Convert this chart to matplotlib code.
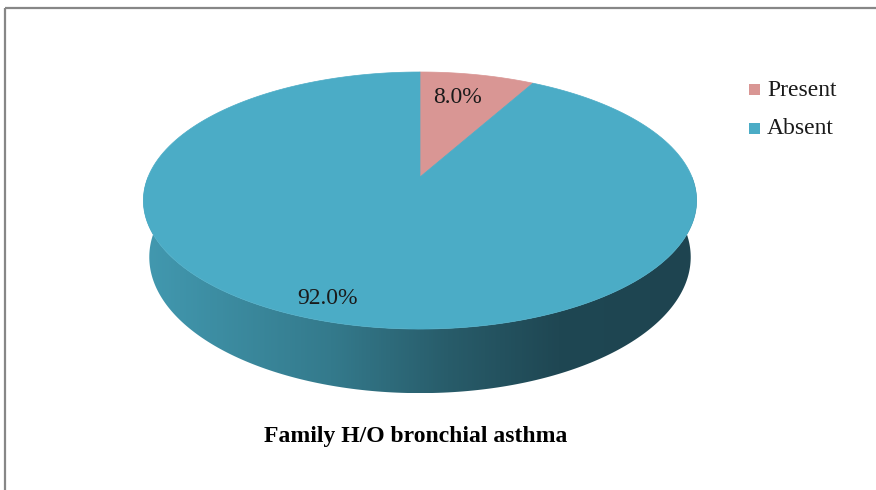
import numpy as np
import matplotlib.pyplot as plt
from matplotlib.patches import Polygon, Rectangle
from matplotlib.colors import LinearSegmentedColormap

plt.rcParams['font.family'] = ['Liberation Serif', 'DejaVu Serif']

title = "Family H/O bronchial asthma"
labels = ["Present", "Absent"]
values = [8.0, 92.0]
top_colors = ["#D99694", "#4BACC6"]

# perspective camera for the tilted disc (pixel units)
cx, cy = 420.0, 177.0
f = 1352.6
kx = 0.982
tilt = np.deg2rad(26.65)
dist = 4.884
height = 0.23
s, c = np.sin(tilt), np.cos(tilt)


def project(x, y, z):
    depth = dist + z * c - y * s
    return cx + kx * f * x / depth, cy - f * (y * c + z * s) / depth


def arc(t0, t1, y=0.0, n=200):
    t = np.linspace(t0, t1, n)
    X, Y = project(np.sin(t), y, np.cos(t))
    return np.column_stack([X, Y])


fig = plt.figure(figsize=(8.76, 4.9), dpi=100)
ax = fig.add_axes([0, 0, 1, 1])
ax.set_xlim(0, 876)
ax.set_ylim(490, 0)
ax.axis("off")

# outer frame
ax.add_patch(Rectangle((5, 8.5), 880, 490, fill=False, edgecolor="#878787", lw=1.6))

# side wall (front half) with a left-to-right shading
side_pts = np.vstack([arc(np.pi / 2, 3 * np.pi / 2),
                      arc(3 * np.pi / 2, np.pi / 2, y=-height)])
side = Polygon(side_pts, closed=True, facecolor="none", edgecolor="none")
ax.add_patch(side)
stops = [(0.0, (66, 153, 176)), (0.34, (52, 122, 140)), (0.55, (40, 92, 106)),
         (0.75, (31, 71, 83)), (1.0, (30, 68, 80))]
cmap = LinearSegmentedColormap.from_list(
    "side", [(p, tuple(v / 255 for v in rgb)) for p, rgb in stops])
x0, x1 = side_pts[:, 0].min(), side_pts[:, 0].max()
y0, y1 = side_pts[:, 1].min(), side_pts[:, 1].max()
grad = np.tile(np.linspace(0, 1, 512), (2, 1))
im = ax.imshow(grad, cmap=cmap, extent=(x0, x1, y1, y0), aspect="auto", zorder=1)
im.set_clip_path(side)

# top face wedges, clockwise from 12 o'clock
angles = np.cumsum([0.0] + values) / sum(values) * 2 * np.pi
for i, col in enumerate(top_colors):
    pts = np.vstack([[cx, cy], arc(angles[i], angles[i + 1])])
    ax.add_patch(Polygon(pts, closed=True, facecolor=col, edgecolor=col,
                         lw=0.5, zorder=2))

label_pos = [(458, 97), (328, 298)]
for v, (lx, ly) in zip(values, label_pos):
    ax.text(lx, ly, f"{v:.1f}%", ha="center", va="center", fontsize=17,
            color="#1a1a1a", zorder=3)

# legend
for i, (lab, col) in enumerate(zip(labels, top_colors)):
    ly = 90 + i * 38
    ax.add_patch(Rectangle((749, ly - 5.5), 11, 11, facecolor=col, edgecolor="none"))
    ax.text(767, ly, lab, ha="left", va="center", fontsize=17, color="#1a1a1a")

ax.text(416, 436, title, ha="center", va="center", fontsize=17,
        fontweight="bold", color="black")

fig.savefig("out.png", dpi=100)
